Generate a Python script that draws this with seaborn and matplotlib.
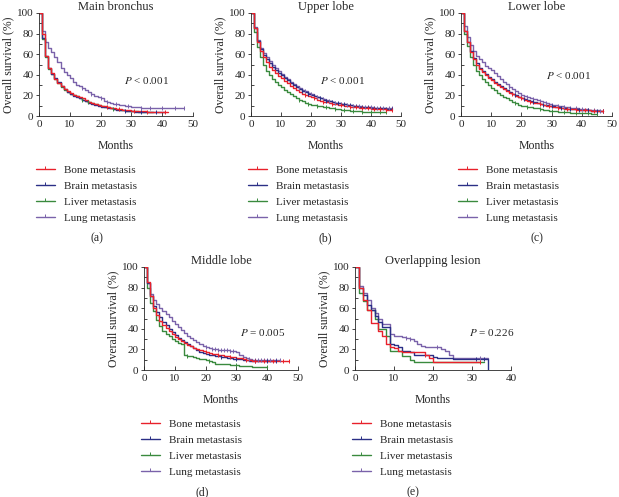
import matplotlib.pyplot as plt
import seaborn as sns
import pandas as pd
from matplotlib.lines import Line2D
from matplotlib.ticker import MultipleLocator

sns.set_style('ticks')
plt.rcParams['font.family'] = ['Liberation Serif', 'DejaVu Serif']
plt.rcParams['mathtext.fontset'] = 'stix'

groups = ['Bone metastasis', 'Brain metastasis', 'Liver metastasis', 'Lung metastasis']
colors = ['#e8212b', '#2b2f86', '#3a8a3e', '#7a62aa']
titles = ['Main bronchus', 'Upper lobe', 'Lower lobe', 'Middle lobe', 'Overlapping lesion']
p_texts = ['$P$ < 0.001', '$P$ < 0.001', '$P$ < 0.001', '$P$ = 0.005', '$P$ = 0.226']
p_pos = [(35, 34), (30.5, 34), (35.5, 39), (38.5, 36), (35, 36)]
panel_tags = ['(a)', '(b)', '(c)', '(d)', '(e)']

# survival (%) at month 0, 1, 2, ... (step function)
# Main bronchus
mb_bone = [100, 80, 58, 47, 42, 36, 32, 29, 26, 24, 22, 20, 19, 18, 17, 16, 14, 13, 12, 11, 10, 9.5, 9, 8, 7.5,
           7, 6.5, 6, 6, 5.5, 5, 5, 5, 4.5, 4.5, 4, 4, 4, 4, 4, 4, 4, 4]
mb_brain = [100, 76, 58, 47, 41, 37, 33, 29, 26, 23, 21, 19, 18, 17, 16, 15, 13, 12, 11, 10, 9, 8.5, 8, 7.5, 7,
            6, 6, 5.5, 5, 5, 4.5, 4, 4, 4, 4, 4, 4, 4, 4, 4, 4, 4]
mb_liver = [100, 75, 57, 46, 41, 36, 32, 28, 25, 23, 21, 20, 19, 17, 16, 15, 14, 13, 12, 11, 10, 9, 8.5, 8, 7,
            6.5, 6, 5.5, 5, 5, 4.5, 4.5, 4, 4, 4, 4, 4, 4]
mb_lung = [100, 83, 72, 66, 62, 57, 52, 47, 43, 40, 37, 33, 30, 29, 27, 25, 23, 21, 19, 18, 17, 15, 14, 13, 12,
           11.5, 11, 10.5, 10, 9.5, 9, 9, 8.5, 8, 8, 7.5, 7.5, 7.5, 7.5, 7.5, 7.5, 7.5, 7.5, 7.5, 7.5, 7.5, 7.5, 7.5]

# Upper lobe
ul_bone = [100, 85, 72, 63, 57, 52, 48, 45, 42, 39, 37, 34, 32, 29, 27, 25, 23, 21.5, 20, 19, 18, 17, 16, 15, 14,
           13.5, 13, 12, 11.5, 11, 10.5, 10, 9.5, 9, 9, 8.5, 8, 8, 7.5, 7.5, 7, 7, 6.5, 6.5, 6.5, 6, 6, 6]
ul_brain = [100, 85, 73, 65, 59, 55, 51, 48, 45, 42, 40, 37, 35, 32, 30, 28, 26, 24, 23, 21.5, 20, 19, 18, 17, 16,
            15, 14.5, 13.5, 13, 12.5, 12, 11.5, 11, 10.5, 10, 9.5, 9, 9, 8.5, 8.5, 8, 8, 7.5, 7.5, 7.5, 7, 7, 7]
ul_liver = [100, 82, 67, 57, 50, 44, 40, 36, 33, 30, 28, 25, 23, 21, 19, 17, 15.5, 14.5, 13, 12, 11, 10.5, 10, 9.5,
            9, 8.5, 8, 7.5, 7, 6.5, 6, 5.5, 5.5, 5, 5, 4.5, 4.5, 4, 4, 4, 3.5, 3.5, 3.5, 3.5, 3.5, 3.5]
ul_lung = [100, 86, 74, 66, 61, 57, 53, 50, 47, 44, 41, 38, 36, 33, 31, 29, 27, 25, 24, 22, 21, 19.5, 18.5, 17.5,
           16.5, 15.5, 14.5, 14, 13, 12.5, 12, 11.5, 11, 10.5, 10, 10, 9.5, 9, 9, 8.5, 8.5, 8, 8, 8, 7.5, 7.5, 7.5, 7.5]

# Lower lobe
ll_bone = [100, 83, 72, 62, 55, 50, 46, 43, 40, 37, 35, 32, 30, 28, 26, 24, 22.5, 21, 19.5, 18, 17, 16, 15, 14, 13,
           12.5, 11.5, 11, 10, 9.5, 9, 8.5, 8, 7.5, 7, 7, 6.5, 6.5, 6, 6, 5.5, 5.5, 5.5, 5, 5, 5, 5, 5]
ll_brain = [100, 83, 72, 63, 56, 51, 47, 44, 41, 38, 36, 33, 31, 29, 27, 25, 23, 21.5, 20, 18.5, 17.5, 16.5, 15.5,
            14.5, 13.5, 12.5, 12, 11, 10.5, 10, 9.5, 9, 8.5, 8, 7.5, 7, 7, 6.5, 6.5, 6, 6, 5.5, 5.5, 5, 5, 4.5, 4.5, 4.5]
ll_liver = [100, 80, 68, 57, 50, 44, 40, 36, 33, 30, 27, 25, 22.5, 20.5, 18.5, 17, 15.5, 14, 12.5, 11, 10, 9.5, 9,
            8.5, 8, 7.5, 7, 6, 5.5, 5, 4.5, 4.5, 4, 4, 3.5, 3.5, 3, 3, 3, 3, 2.5, 2.5, 2.5, 2, 2, 2]
ll_lung = [100, 87, 77, 69, 63, 58, 55, 52, 49, 47, 45, 42, 39, 36, 33, 31, 28, 26, 24, 22, 20.5, 19.5, 18.5, 17.5,
           16.5, 15.5, 14.5, 13.5, 12.5, 12, 11, 10.5, 10, 9.5, 9, 8.5, 8, 8, 7.5, 7, 6.5, 6.5, 6, 6, 5.5, 5.5, 5, 5]

# Middle lobe
ml_bone = [100, 85, 72, 60, 53, 48, 44, 41, 38, 35, 32, 30, 28, 26, 24, 23, 21, 20, 19, 18, 17, 16.5, 16, 15.5, 15,
           14.5, 14, 13.5, 13, 12.5, 12, 11.5, 11, 10, 9.5, 9, 9, 9, 9, 9, 9, 9, 9, 9, 8.5, 8.5, 8.5, 8.5]
ml_brain = [100, 84, 72, 62, 56, 51, 47, 44, 40, 37, 34, 31, 29, 27, 25, 23, 21, 19, 17.5, 16.5, 15.5, 15, 14.5, 14,
            13.5, 13, 12.5, 12, 11.5, 11, 11, 10.5, 10, 9.5, 9, 9, 9, 9, 9, 9, 9, 9, 9, 9]
ml_liver = [100, 80, 65, 57, 49, 43, 38, 35, 33, 30, 28, 26, 25, 15, 14, 13.5, 13, 12, 11, 11, 10, 9, 8, 6, 6, 6, 6,
            5.5, 5, 5, 4.5, 4, 4, 4, 4, 3, 3, 3, 3, 3, 3]
ml_lung = [100, 84, 74, 68, 64, 60, 57, 54, 51, 48, 45, 42, 39, 36, 33, 31, 29, 27, 25, 23, 22, 21, 20, 20, 19.5,
           19.5, 19, 19, 18.5, 18, 17, 15, 13, 12, 10.5, 10, 10, 10, 9.5, 9.5, 9.5, 9.5, 9.5, 9.5, 9.5]

# Overlapping lesion
ol_bone = [100, 80, 68, 58, 46, 46, 38, 33, 25, 22, 21, 18, 17, 17, 17, 17, 17, 17, 15, 12, 8, 8, 8, 8, 8, 8, 8, 8,
           8, 8, 8, 8, 8]
ol_brain = [100, 80, 73, 63, 58, 52, 47, 42, 42, 25, 24, 22, 18, 18, 17, 15, 15, 15, 15, 15, 13, 12, 12, 12, 12, 11,
            11, 11, 11, 11, 11, 11, 11, 11, 0]
ol_liver = [100, 75, 67, 58, 58, 50, 40, 40, 33, 18, 18, 18, 14, 14, 10, 8, 8, 8, 8, 8, 8, 8, 8, 8, 8, 8, 8, 8, 8, 8,
            8, 8, 8, 8]
ol_lung = [100, 82, 75, 68, 60, 55, 50, 45, 45, 35, 33, 33, 32, 31, 30, 28, 25, 23, 22, 22, 22, 22, 20, 18, 15, 12,
           12, 12, 12, 12, 12, 12, 12, 12, 12]

# censored months
mb_cens = [[22, 26, 31, 35, 41], [28, 33, 38], [14, 16, 24], [14, 17, 20, 22, 25, 29, 33, 36, 40, 44, 47]]
ul_cens = [[18, 21, 24, 27, 30, 33, 35, 37, 39, 41, 43, 45, 47],
           [17, 19, 21, 23, 25, 27, 29, 31, 33, 35, 37, 39, 41, 43, 45, 47],
           [16, 19, 22, 25, 28, 31, 34, 37, 40, 43, 45],
           [16, 18, 20, 22, 24, 26, 28, 30, 32, 34, 36, 38, 40, 42, 44, 46, 47]]
ll_cens = [[17, 20, 23, 26, 29, 32, 35, 38, 41, 44, 47],
           [18, 21, 24, 27, 30, 33, 36, 39, 42, 45, 47],
           [18, 22, 26, 30, 34, 38, 42, 45],
           [16, 18, 20, 22, 24, 26, 28, 30, 32, 34, 36, 38, 40, 42, 44, 46, 47]]
ml_cens = [[20, 24, 28, 33, 36, 39, 42, 45, 47], [25, 30, 36, 40, 43], [14, 21, 30, 40],
           [20, 22, 23, 24, 25, 26, 27, 28, 29, 34, 36, 37, 38, 39, 40, 41, 43, 44]]
ol_cens = [[18, 32], [31, 33], [], [13, 14, 21, 32]]

panels = [
    [mb_bone, mb_brain, mb_liver, mb_lung],
    [ul_bone, ul_brain, ul_liver, ul_lung],
    [ll_bone, ll_brain, ll_liver, ll_lung],
    [ml_bone, ml_brain, ml_liver, ml_lung],
    [ol_bone, ol_brain, ol_liver, ol_lung],
]
censors = [mb_cens, ul_cens, ll_cens, ml_cens, ol_cens]
xmax = [50, 50, 50, 50, 40]

W, H = 619, 497
# axes boxes in pixels: left, top, width, height
boxes = [(39, 13, 154, 103), (251, 13, 150, 103), (461, 13, 151, 103),
         (144, 267, 154, 103), (355, 267, 156, 103)]
tag_pos = [(97, 238), (325, 238), (537, 238), (202, 492), (413, 492)]

fig = plt.figure(figsize=(W / 100, H / 100), dpi=100)

for i in range(5):
    l, t, w, h = boxes[i]
    ax = fig.add_axes([l / W, 1 - (t + h) / H, w / W, h / H])
    curves = panels[i]
    # draw lung first, bone last so red sits on top
    for j in [3, 2, 1, 0]:
        s = curves[j]
        df = pd.DataFrame({'month': list(range(len(s))), 'surv': s})
        sns.lineplot(data=df, x='month', y='surv', drawstyle='steps-post', color=colors[j],
                     lw=1.0, estimator=None, ax=ax)
        cm = [m for m in censors[i][j] if m < len(s)]
        if cm:
            sns.scatterplot(x=cm, y=[s[m] for m in cm], marker='|', s=12, color=colors[j],
                            linewidth=0.7, ax=ax, zorder=3)
    ax.set_xlim(0, xmax[i])
    ax.set_ylim(0, 100)
    ax.set_xticks(range(0, xmax[i] + 1, 10))
    ax.set_yticks(range(0, 101, 20))
    ax.yaxis.set_minor_locator(MultipleLocator(10))
    ax.tick_params(axis='x', direction='in', length=3, width=0.6, labelsize=8, pad=3)
    ax.tick_params(axis='y', which='major', direction='out', length=2.5, width=0.6, labelsize=8, pad=1.5)
    ax.tick_params(axis='y', which='minor', direction='in', length=2, width=0.6)
    for sp in ['top', 'right']:
        ax.spines[sp].set_visible(False)
    for sp in ['left', 'bottom']:
        ax.spines[sp].set_linewidth(0.6)
    ax.set_title(titles[i], fontsize=9, pad=2)
    ax.set_xlabel('Months', fontsize=8.5, labelpad=8)
    ax.set_ylabel('Overall survival (%)', fontsize=8.5, labelpad=2)
    ax.text(p_pos[i][0], p_pos[i][1], p_texts[i], fontsize=8, ha='center', va='center')

    handles = [Line2D([0], [0], color=c, lw=1.0, marker=2, markersize=2.5, markeredgewidth=0.7)
               for c in colors]
    ax.legend(handles, groups, loc='upper left', bbox_to_anchor=(-0.02, -0.48), frameon=False,
              fontsize=8, handlelength=1.7, handletextpad=0.8, labelspacing=0.55,
              borderpad=0, borderaxespad=0)
    fig.text(tag_pos[i][0] / W, 1 - tag_pos[i][1] / H, panel_tags[i], fontsize=8.5,
             ha='center', va='center')

fig.savefig('out.png', dpi=100)
